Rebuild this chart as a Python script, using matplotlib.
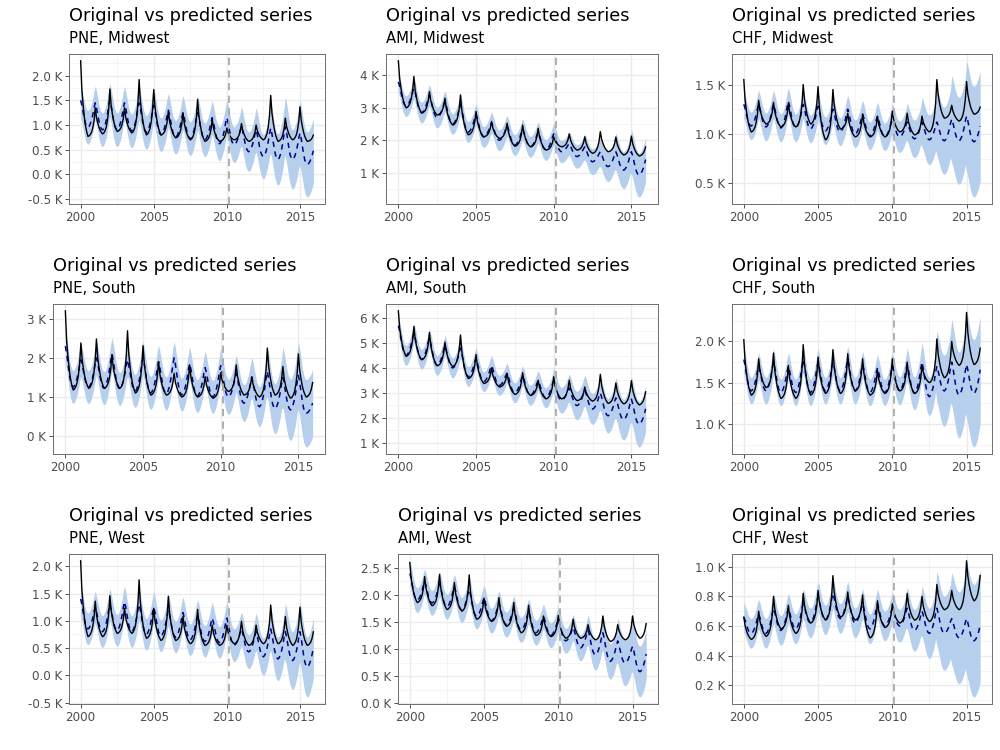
import numpy as np
import matplotlib
matplotlib.use("Agg")
import matplotlib.pyplot as plt
from matplotlib.ticker import MultipleLocator, FuncFormatter

# panels, row by row (values in thousands)
drugs = ["PNE", "AMI", "CHF", "PNE", "AMI", "CHF", "PNE", "AMI", "CHF"]
regions = ["Midwest", "Midwest", "Midwest", "South", "South", "South", "West", "West", "West"]

years = list(range(2000, 2016))
split_year = 2010.14

# seasonal profile, Jan..Dec (0 = summer trough, 1 = winter peak)
orig_shape = [1.0, 0.62, 0.42, 0.26, 0.14, 0.06, 0.0, 0.02, 0.07, 0.15, 0.3, 0.55]
pred_shape = [1.0, 0.82, 0.58, 0.33, 0.14, 0.04, 0.0, 0.05, 0.16, 0.32, 0.53, 0.8]

# winter peaks of the original series, seasons 2000..2016
orig_peak = [
    [2.30, 1.35, 1.73, 1.35, 1.92, 1.72, 1.28, 1.25, 1.52, 1.11, 0.94, 1.03, 1.00, 1.60, 1.14, 1.37, 0.90],
    [4.45, 3.97, 3.50, 3.30, 3.40, 2.89, 2.58, 2.53, 2.47, 2.37, 2.11, 2.20, 2.11, 2.27, 2.10, 2.13, 2.02],
    [1.55, 1.34, 1.32, 1.31, 1.50, 1.48, 1.45, 1.21, 1.20, 1.18, 1.23, 1.21, 1.18, 1.55, 1.29, 1.53, 1.33],
    [3.20, 2.38, 2.48, 2.08, 2.69, 2.31, 1.90, 1.60, 1.82, 1.52, 1.62, 1.82, 1.52, 2.25, 1.78, 2.10, 1.67],
    [6.30, 5.67, 5.43, 5.04, 5.33, 4.54, 4.00, 3.79, 3.81, 3.51, 3.65, 3.51, 3.24, 3.75, 3.40, 3.49, 3.47],
    [2.02, 1.79, 1.86, 1.71, 1.96, 1.81, 1.90, 1.85, 1.79, 1.65, 1.79, 1.75, 1.71, 2.03, 2.00, 2.35, 2.08],
    [2.10, 1.36, 1.46, 1.23, 1.75, 1.23, 1.45, 1.08, 1.21, 0.92, 0.92, 0.99, 0.92, 1.29, 1.08, 1.25, 1.00],
    [2.60, 2.34, 2.38, 2.23, 2.37, 1.94, 1.95, 1.86, 1.81, 1.61, 1.62, 1.55, 1.45, 1.61, 1.45, 1.61, 1.69],
    [0.66, 0.70, 0.80, 0.74, 0.82, 0.84, 0.94, 0.83, 0.81, 0.77, 0.75, 0.82, 0.80, 0.88, 0.84, 1.04, 1.08],
]
# summer troughs of the original series, 2000..2015
orig_trough = [
    [0.77, 0.82, 0.87, 0.84, 0.80, 0.80, 0.74, 0.70, 0.67, 0.67, 0.70, 0.67, 0.70, 0.67, 0.70, 0.67],
    [3.00, 2.84, 2.78, 2.47, 2.17, 2.11, 2.06, 1.82, 1.80, 1.70, 1.80, 1.70, 1.60, 1.65, 1.55, 1.52],
    [1.02, 1.10, 1.07, 1.07, 1.10, 0.94, 1.05, 0.97, 0.97, 0.97, 1.02, 0.99, 1.02, 1.16, 1.13, 1.20],
    [1.18, 1.22, 1.22, 1.22, 1.10, 1.05, 1.05, 1.00, 1.00, 0.97, 1.14, 1.05, 1.00, 1.05, 0.97, 1.00],
    [4.47, 4.33, 4.09, 4.06, 3.58, 3.38, 3.24, 2.94, 2.90, 2.76, 2.76, 2.69, 2.67, 2.58, 2.56, 2.52],
    [1.35, 1.44, 1.31, 1.31, 1.35, 1.37, 1.37, 1.40, 1.35, 1.37, 1.40, 1.37, 1.50, 1.56, 1.71, 1.72],
    [0.71, 0.71, 0.77, 0.77, 0.68, 0.64, 0.64, 0.58, 0.55, 0.55, 0.58, 0.55, 0.58, 0.58, 0.55, 0.55],
    [1.86, 1.80, 1.73, 1.70, 1.55, 1.51, 1.42, 1.30, 1.25, 1.23, 1.20, 1.20, 1.17, 1.14, 1.17, 1.20],
    [0.51, 0.53, 0.58, 0.55, 0.62, 0.64, 0.66, 0.64, 0.52, 0.59, 0.62, 0.64, 0.63, 0.71, 0.71, 0.77],
]
# predicted series, winter peaks 2000..2016 and summer troughs 2000..2015
pred_peak = [
    [1.50, 1.45, 1.50, 1.45, 1.45, 1.40, 1.30, 1.25, 1.25, 1.15, 1.15, 0.97, 0.90, 0.94, 0.97, 0.84, 0.55],
    [3.80, 3.60, 3.40, 3.20, 3.10, 2.80, 2.55, 2.45, 2.35, 2.25, 2.20, 1.90, 1.80, 1.65, 1.65, 1.65, 1.53],
    [1.30, 1.30, 1.30, 1.33, 1.30, 1.28, 1.25, 1.25, 1.20, 1.18, 1.15, 1.12, 1.12, 1.12, 1.15, 1.18, 1.12],
    [2.30, 1.95, 2.00, 2.10, 1.95, 2.00, 1.90, 2.00, 1.85, 1.75, 1.80, 1.60, 1.50, 1.65, 1.50, 1.55, 0.91],
    [5.70, 5.40, 5.20, 4.90, 4.80, 4.40, 4.10, 3.80, 3.70, 3.50, 3.50, 3.20, 3.10, 3.00, 2.80, 2.75, 2.52],
    [1.78, 1.70, 1.75, 1.70, 1.78, 1.75, 1.75, 1.78, 1.72, 1.68, 1.70, 1.72, 1.75, 1.70, 1.75, 1.72, 1.73],
    [1.40, 1.25, 1.30, 1.35, 1.30, 1.25, 1.20, 1.15, 1.10, 1.05, 1.05, 0.85, 0.80, 0.85, 0.80, 0.80, 0.60],
    [2.40, 2.25, 2.20, 2.15, 2.10, 1.95, 1.85, 1.75, 1.70, 1.60, 1.55, 1.40, 1.35, 1.30, 1.15, 1.05, 0.99],
    [0.66, 0.68, 0.72, 0.72, 0.75, 0.80, 0.82, 0.80, 0.75, 0.75, 0.72, 0.72, 0.70, 0.72, 0.65, 0.65, 0.63],
]
pred_trough = [
    [0.95, 0.90, 0.90, 0.88, 0.85, 0.80, 0.75, 0.72, 0.70, 0.62, 0.60, 0.46, 0.36, 0.30, 0.30, 0.20],
    [3.05, 2.85, 2.70, 2.50, 2.25, 2.10, 2.00, 1.85, 1.80, 1.70, 1.65, 1.50, 1.34, 1.19, 1.08, 0.93],
    [1.08, 1.07, 1.06, 1.06, 1.05, 1.03, 1.02, 1.00, 0.98, 0.97, 0.97, 0.95, 0.94, 0.93, 0.93, 0.92],
    [1.25, 1.25, 1.22, 1.20, 1.15, 1.10, 1.08, 1.05, 1.02, 1.00, 1.00, 0.84, 0.75, 0.70, 0.67, 0.58],
    [4.50, 4.35, 4.10, 4.00, 3.65, 3.45, 3.30, 3.00, 2.90, 2.80, 2.70, 2.49, 2.35, 2.08, 1.92, 1.74],
    [1.40, 1.40, 1.38, 1.38, 1.38, 1.40, 1.40, 1.40, 1.38, 1.38, 1.40, 1.37, 1.33, 1.40, 1.35, 1.37],
    [0.85, 0.80, 0.82, 0.80, 0.75, 0.72, 0.70, 0.65, 0.62, 0.60, 0.55, 0.43, 0.34, 0.30, 0.27, 0.15],
    [1.90, 1.85, 1.78, 1.72, 1.60, 1.52, 1.45, 1.35, 1.30, 1.25, 1.15, 1.02, 0.89, 0.77, 0.74, 0.58],
    [0.55, 0.55, 0.57, 0.58, 0.62, 0.64, 0.65, 0.62, 0.58, 0.60, 0.60, 0.57, 0.55, 0.55, 0.52, 0.50],
]
# half width of the prediction interval, 2000..2015
band_half = [
    [0.34] * 10 + [0.36, 0.40, 0.45, 0.52, 0.60, 0.66],
    [0.32] * 10 + [0.34, 0.36, 0.40, 0.46, 0.57, 0.68],
    [0.14] * 10 + [0.16, 0.19, 0.25, 0.34, 0.44, 0.56],
    [0.42] * 10 + [0.45, 0.47, 0.51, 0.64, 0.78, 0.86],
    [0.40] * 10 + [0.52, 0.57, 0.62, 0.70, 0.82, 0.92],
    [0.16] * 10 + [0.17, 0.20, 0.23, 0.43, 0.52, 0.65],
    [0.29] * 10 + [0.30, 0.31, 0.34, 0.40, 0.53, 0.55],
    [0.23] * 10 + [0.23, 0.24, 0.28, 0.33, 0.42, 0.47],
    [0.10] * 10 + [0.11, 0.14, 0.17, 0.25, 0.31, 0.38],
]
y_step = [0.5, 1, 0.5, 1, 1, 0.5, 0.5, 0.5, 0.2]
y_fmt = ["{:.1f} K", "{:.0f} K", "{:.1f} K", "{:.0f} K", "{:.0f} K", "{:.1f} K", "{:.1f} K", "{:.1f} K", "{:.1f} K"]

# panel boxes in pixels
W, H = 1000, 750
row_tops = [54, 304, 554]
row_lefts = [[69, 386, 732], [53, 386, 732], [69, 398, 732]]
col_rights = [325, 658, 992]
panel_h = 150


def monthly(peak, trough, shape):
    vals = []
    for yi in range(len(years)):
        for m in range(12):
            p = peak[yi] if m < 6 else peak[yi + 1]
            vals.append(trough[yi] + (p - trough[yi]) * shape[m])
    return np.array(vals)


t = 2000 + np.arange(len(years) * 12) / 12.0

fig = plt.figure(figsize=(W / 100, H / 100), dpi=100)

for k in range(9):
    r, c = divmod(k, 3)
    left, right, top = row_lefts[r][c], col_rights[c], row_tops[r]
    ax = fig.add_axes([left / W, 1 - (top + panel_h) / H, (right - left) / W, panel_h / H])

    orig = monthly(orig_peak[k], orig_trough[k], orig_shape)
    pred = monthly(pred_peak[k], pred_trough[k], pred_shape)
    hw = np.repeat(band_half[k], 12)

    ax.fill_between(t, pred - hw, pred + hw, color="#B6CFEC", lw=0, zorder=2)
    ax.plot(t, pred, color="#00008B", lw=1.1, ls=(0, (3.5, 3)), zorder=3)
    ax.plot(t, orig, color="black", lw=1.0, zorder=4)
    ax.axvline(split_year, color="#A8A8A8", lw=1.3, ls=(0, (4, 3)), zorder=5)

    ax.set_xlim(t[0] - 0.05 * (t[-1] - t[0]), t[-1] + 0.05 * (t[-1] - t[0]))
    ax.margins(y=0.05)
    ax.set_xticks([2000, 2005, 2010, 2015])
    ax.xaxis.set_minor_locator(MultipleLocator(2.5))
    ax.yaxis.set_major_locator(MultipleLocator(y_step[k]))
    ax.yaxis.set_minor_locator(MultipleLocator(y_step[k] / 2))
    fmt = y_fmt[k]
    ax.yaxis.set_major_formatter(FuncFormatter(lambda v, pos, f=fmt: f.format(v + 0.0)))

    ax.set_axisbelow(True)
    ax.grid(which="major", color="#EBEBEB", lw=1.0, zorder=0)
    ax.grid(which="minor", color="#F3F3F3", lw=0.6, zorder=0)
    ax.tick_params(which="major", length=2.75, width=0.6, color="#333333",
                   labelsize=8.6, labelcolor="#4D4D4D", pad=2)
    ax.tick_params(which="minor", length=0)
    for s in ax.spines.values():
        s.set_color("#6E6E6E")
        s.set_linewidth(0.7)

    fig.text(left / W, 1 - (top - 33) / H, "Original vs predicted series",
             fontsize=12.8, va="baseline", ha="left")
    fig.text(left / W, 1 - (top - 11) / H, f"{drugs[k]}, {regions[k]}",
             fontsize=10.7, va="baseline", ha="left")

fig.savefig("out.png", dpi=100)
